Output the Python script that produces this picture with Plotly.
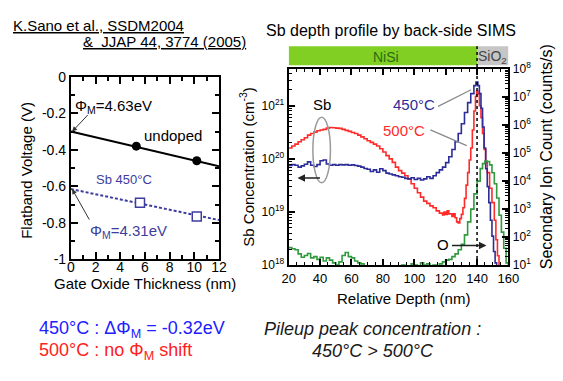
import plotly.graph_objects as go

# ---------------- Left panel data ----------------
tox_fit = [0, 12]
vfb_undoped_fit = [-0.30, -0.49]
vfb_sb450_fit = [-0.615, -0.785]
tox_undoped = [5.3, 10.2]
vfb_undoped = [-0.38, -0.46]
tox_sb450 = [5.6, 10.2]
vfb_sb450 = [-0.69, -0.765]

left_x_ticks = [0, 2, 4, 6, 8, 10, 12]
left_y_ticks = [0, -0.2, -0.4, -0.6, -0.8, -1]
left_y_text = ["0", "-0.2", "-0.4", "-0.6", "-0.8", "-1"]

# ---------------- Right panel data ----------------
depth_500 = [20, 22, 24, 26, 28, 30, 32, 34, 36, 38, 40, 42, 44, 46, 48, 50, 52, 54, 56, 58,
             60, 62, 64, 66, 68, 70, 72, 74, 76, 78, 80, 82, 84, 86, 88, 90, 92, 94, 96, 98,
             100, 102, 104, 106, 108, 110, 112, 114, 116, 118, 119, 120, 121, 122, 124, 125,
             126, 127, 128, 129, 130, 131, 132, 133, 134, 135, 136, 137, 138, 139, 139.7,
             140.5, 141.5, 142.5, 143.5, 144.5, 145.5, 146.5, 148, 149.5, 151, 152, 153, 154]
sb_500 = [1.6e20, 1.75e20, 1.9e20, 2.1e20, 2.3e20, 2.5e20, 2.8e20, 3.0e20, 3.2e20, 3.4e20,
          3.5e20, 3.6e20, 3.8e20, 3.9e20, 3.85e20, 3.8e20, 3.75e20, 3.6e20, 3.45e20, 3.3e20,
          3.15e20, 3.0e20, 2.8e20, 2.6e20, 2.4e20, 2.2e20, 2.05e20, 1.9e20, 1.75e20, 1.55e20,
          1.35e20, 1.15e20, 1.0e20, 8.6e19, 7.0e19, 6.0e19, 5.4e19, 4.8e19, 4.2e19, 3.4e19,
          2.8e19, 2.3e19, 1.9e19, 1.6e19, 1.45e19, 1.3e19, 1.2e19, 1.05e19, 9.5e18, 8.8e18,
          1.0e19, 9.0e18, 1.05e19, 9.2e18, 8.2e18, 9.2e18, 7.8e18, 6.5e18, 6.2e18, 7.5e18,
          9.0e18, 1.2e19, 1.8e19, 3.2e19, 5.5e19, 9.5e19, 1.6e20, 3.5e20, 8.0e20, 1.5e21,
          1.9e21, 1.7e21, 1.0e21, 6.0e20, 3.0e20, 1.5e20, 8.5e19, 5.5e19, 2.8e19, 1.5e19,
          7e18, 3e18, 1.5e18, 8e17]

depth_450 = [20, 22, 24, 26, 28, 30, 32, 34, 36, 38, 40, 42, 44, 46, 48, 50, 52, 54, 56, 58,
             60, 62, 64, 66, 68, 70, 72, 74, 76, 78, 80, 82, 84, 86, 88, 90, 92, 94, 96, 98,
             100, 102, 104, 106, 108, 110, 112, 114, 116, 118, 120, 122, 124, 126, 128, 130,
             132, 134, 136, 138, 139.3, 140.5, 141.5, 142.5, 143.5, 144.5, 145.5, 146.5,
             147.5, 148.5, 149.5, 150.5, 151.5, 152.5]
sb_450 = [7.5e19, 7.8e19, 7.6e19, 7.0e19, 7.4e19, 7.9e19, 8.8e19, 7.6e19, 7.2e19, 7.8e19,
          9.2e19, 9.5e19, 8.0e19, 7.6e19, 7.8e19, 7.6e19, 7.8e19, 7.7e19, 7.8e19, 7.6e19,
          7.7e19, 7.5e19, 7.3e19, 7.0e19, 6.6e19, 6.4e19, 5.8e19, 6.2e19, 5.6e19, 6.5e19,
          6.0e19, 5.4e19, 5.2e19, 5.0e19, 4.8e19, 4.6e19, 4.5e19, 4.3e19, 4.2e19, 4.4e19,
          4.1e19, 4.3e19, 4.0e19, 4.2e19, 4.6e19, 4.3e19, 4.8e19, 5.5e19, 6.2e19, 7.0e19,
          8.5e19, 1.1e20, 1.5e20, 2.1e20, 3.0e20, 4.6e20, 7.5e20, 1.15e21, 1.7e21, 2.4e21,
          2.8e21, 2.4e21, 1.7e21, 9e20, 4.0e20, 1.6e20, 6.5e19, 3.0e19, 1.5e19, 7e18,
          3.5e18, 1.8e18, 1.1e18, 7e17]

depth_o = [20, 22, 24, 26, 28, 30, 32, 34, 36, 38, 40, 42, 44, 46, 48, 50, 52, 54, 56, 58,
           60, 62, 64, 66, 68, 70, 72, 74, 76, 78, 80, 82, 84, 86, 88, 90, 92, 94, 96, 98,
           100, 102, 104, 106, 108, 110, 112, 114, 116, 118, 120, 122, 124, 126, 128, 130,
           132, 134, 136, 138, 140, 142, 143.5, 145, 146.5, 148, 149.5, 151, 152.5, 154,
           155.5, 157, 158.5, 160]
o_counts = [42, 38, 35, 25, 19, 22, 26, 18, 20, 16, 19, 14, 18, 15, 12, 10, 13, 22, 28, 20,
            18, 14, 12, 11, 9, 7, 8, 6, 8, 7, 6, 7, 8, 7, 9, 8, 10, 9, 8, 11,
            10, 9, 12, 10, 11, 9, 10, 8, 11, 13, 15, 16, 20, 25, 35, 55,
            120, 350, 1000, 3500, 10000, 28000, 42000, 52000, 50000, 38000, 20000, 8000,
            2500, 600, 150, 40, 12, 6]

sb_tickvals = [1e18, 1e19, 1e20, 1e21]
sb_ticktext = ["10<sup>18</sup>", "10<sup>19</sup>", "10<sup>20</sup>", "10<sup>21</sup>"]
ion_tickvals = [1e1, 1e2, 1e3, 1e4, 1e5, 1e6, 1e7, 1e8]
ion_ticktext = ["10<sup>%d</sup>" % e for e in range(1, 9)]
depth_ticks = [20, 40, 60, 80, 100, 120, 140, 160]

FONT = "Liberation Sans, Arial, sans-serif"
BLUE_LINE = "#2c2c98"
RED_LINE = "#ff2a2a"
GREEN_LINE = "#2f9a3e"
LEFT_BLUE = "#3d3d9e"
TEXT_BLUE = "#2020ff"
TEXT_RED = "#ff2020"

fig = go.Figure()

# Left panel
fig.add_trace(go.Scatter(x=tox_fit, y=vfb_undoped_fit, mode="lines",
                         line=dict(color="black", width=2), xaxis="x", yaxis="y"))
fig.add_trace(go.Scatter(x=tox_undoped, y=vfb_undoped, mode="markers",
                         marker=dict(color="black", size=9, symbol="circle"), xaxis="x", yaxis="y"))
fig.add_trace(go.Scatter(x=tox_fit, y=vfb_sb450_fit, mode="lines",
                         line=dict(color=LEFT_BLUE, width=2, dash="3px,2px"), xaxis="x", yaxis="y"))
fig.add_trace(go.Scatter(x=tox_sb450, y=vfb_sb450, mode="markers",
                         marker=dict(color="white", size=9, symbol="square",
                                     line=dict(color=LEFT_BLUE, width=1.5)), xaxis="x", yaxis="y"))

# Right panel
fig.add_trace(go.Scatter(x=depth_o, y=o_counts, mode="lines", line_shape="hv",
                         line=dict(color=GREEN_LINE, width=1.6), xaxis="x2", yaxis="y3"))
fig.add_trace(go.Scatter(x=depth_500, y=sb_500, mode="lines", line_shape="hv",
                         line=dict(color=RED_LINE, width=1.6), xaxis="x2", yaxis="y2"))
fig.add_trace(go.Scatter(x=depth_450, y=sb_450, mode="lines", line_shape="hv",
                         line=dict(color=BLUE_LINE, width=1.6), xaxis="x2", yaxis="y2"))

W, H = 563, 381


def px(x):
    return x / W


def py(y):
    return 1 - y / H


ax_common = dict(showline=True, linecolor="black", linewidth=2, ticks="inside",
                 tickcolor="black", tickwidth=1.5, showgrid=False, zeroline=False,
                 tickfont=dict(family=FONT, size=14, color="black"))

minor_log_sb = [float(m) * 10.0 ** e for e in range(18, 22) for m in range(2, 10)]
minor_log_ion = [float(m) * 10.0 ** e for e in range(1, 8) for m in range(2, 10)]

fig.update_layout(
    width=W, height=H, margin=dict(l=0, r=0, t=0, b=0),
    paper_bgcolor="white", plot_bgcolor="white", showlegend=False,
    font=dict(family=FONT, color="black"),
    xaxis=dict(domain=[px(66), px(219)], range=[0, 12], anchor="y", mirror="ticks",
               tickvals=left_x_ticks, ticklen=7, ticklabelstandoff=-6,
               minor=dict(dtick=1, ticks="inside", ticklen=4, tickwidth=1.5, tickcolor="black"),
               **ax_common),
    yaxis=dict(domain=[py(262), py(71)], range=[-1, 0], anchor="x", mirror="ticks",
               tickvals=left_y_ticks, ticktext=left_y_text, ticklen=7,
               minor=dict(dtick=0.1, ticks="inside", ticklen=4, tickwidth=1.5, tickcolor="black"),
               **ax_common),
    xaxis2=dict(domain=[px(291), px(518)], range=[20, 160], anchor="y2", mirror="ticks",
                tickvals=depth_ticks, ticklen=6, ticklabelstandoff=0,
                minor=dict(dtick=5, tick0=20, ticks="inside", ticklen=3, tickwidth=1.2, tickcolor="black"),
                **{**ax_common, "tickfont": dict(family=FONT, size=13, color="black")}),
    yaxis2=dict(domain=[py(268), py(63)], type="log", range=[18, 21.69], anchor="x2",
                tickvals=sb_tickvals, ticktext=sb_ticktext, ticklen=6,
                minor=dict(tickmode="array", tickvals=minor_log_sb, ticks="inside", ticklen=3,
                           tickwidth=1.2, tickcolor="black"),
                **{**ax_common, "tickfont": dict(family=FONT, size=12, color="black")}),
    yaxis3=dict(type="log", range=[1, 8], anchor="x2", overlaying="y2", side="right",
                tickvals=ion_tickvals, ticktext=ion_ticktext, ticklen=6,
                minor=dict(tickmode="array", tickvals=minor_log_ion, ticks="inside", ticklen=3,
                           tickwidth=1.2, tickcolor="black"),
                **{**ax_common, "tickfont": dict(family=FONT, size=12, color="black")}),
)

shapes = [
    # NiSi / SiO2 layer bar
    dict(type="rect", xref="x2", yref="paper", x0=20, x1=140, y0=py(59), y1=py(39),
         fillcolor="#80cf22", line=dict(width=0), layer="below"),
    dict(type="rect", xref="x2", yref="paper", x0=140, x1=160, y0=py(59), y1=py(39),
         fillcolor="#c6c6c6", line=dict(width=0), layer="below"),
    # interface dotted line
    dict(type="line", xref="x2", yref="paper", x0=140, x1=140, y0=py(268), y1=py(39),
         line=dict(color="black", width=1.5, dash="dot")),
    # Sb ellipse
    dict(type="circle", xref="x2 domain", yref="y2 domain", x0=0.11, x1=0.19, y0=0.42, y1=0.755,
         line=dict(color="#9a9a9a", width=1.5)),
    # leader lines
    dict(type="line", xref="x2 domain", yref="y2 domain", x0=0.68, y0=0.81, x1=0.83, y1=0.895,
         line=dict(color="#8a8a8a", width=1.3)),
    dict(type="line", xref="x2 domain", yref="y2 domain", x0=0.645, y0=0.69, x1=0.81, y1=0.61,
         line=dict(color="#8a8a8a", width=1.3)),
]
fig.update_layout(shapes=shapes)

ann = []


def txt(x, y, s, size=15, color="black", xanchor="center", angle=0):
    ann.append(dict(xref="paper", yref="paper", x=x, y=y, text=s, showarrow=False,
                    xanchor=xanchor, yanchor="middle", textangle=angle,
                    font=dict(family=FONT, size=size, color=color)))


# citation and title
txt(px(4), py(17), "<u>K.Sano et al., SSDM2004</u>", size=15, xanchor="left")
txt(px(76), py(34), "<u>&amp;&nbsp; JJAP 44, 3774 (2005)</u>", size=15, xanchor="left")
txt(px(397), py(22), "Sb depth profile by back-side SIMS", size=16)

# left panel axis titles and labels
txt(px(20), py(169), "Flatband Voltage (V)", size=15, angle=-90)
txt(px(143), py(287), "Gate Oxide Thickness (nm)", size=15)
txt(px(110), py(102), "Φ<sub>M</sub>=4.63eV", size=15)
txt(px(171), py(132), "undoped", size=15)
txt(px(121), py(178), "Sb 450°C", size=13, color=LEFT_BLUE)
txt(px(125), py(233), "Φ<sub>M</sub>=4.31eV", size=15, color=LEFT_BLUE)

# right panel axis titles and labels
txt(px(248), py(166), "Sb Concentration (cm<sup>-3</sup>)", size=15, angle=-90)
txt(px(557), py(155), "Secondary Ion Count (counts/s)", size=16, angle=-90)
txt(px(410), py(303), "Relative Depth (nm)", size=15)
txt(px(392), py(50), "NiSi", size=14, color="#2d6a12")
txt(px(502), py(50), "SiO<sub>2</sub>", size=14, color="#454545")
txt(px(325), py(100), "Sb", size=15)
txt(px(420), py(100), "450°C", size=15, color=BLUE_LINE)
txt(px(410), py(127), "500°C", size=15, color=RED_LINE)
txt(px(450), py(247), "O", size=15)

# bottom summary
txt(px(31), py(335), "450°C : ΔΦ<sub>M</sub> = -0.32eV", size=18, color=TEXT_BLUE, xanchor="left")
txt(px(31), py(358), "500°C : no Φ<sub>M</sub> shift", size=18, color=TEXT_RED, xanchor="left")
txt(px(378), py(335), "<i>Pileup peak concentration :</i>", size=18, color="#1a1a1a")
txt(px(378), py(358), "<i>450°C &gt; 500°C</i>", size=18, color="#1a1a1a")

# arrows
ann.append(dict(xref="x", yref="y", x=0.1, y=vfb_undoped_fit[0], ax=17, ay=-18, text="",
                showarrow=True, arrowhead=2, arrowsize=1, arrowwidth=1, arrowcolor="#333333"))
ann.append(dict(xref="x", yref="y", x=0.1, y=vfb_sb450_fit[0], ax=18, ay=32, text="",
                showarrow=True, arrowhead=2, arrowsize=1, arrowwidth=1, arrowcolor="#333333"))
ann.append(dict(xref="x2 domain", yref="y2 domain", x=0.04, y=0.445, ax=24, ay=0, text="",
                showarrow=True, arrowhead=2, arrowsize=1, arrowwidth=1.5, arrowcolor="#222222"))
ann.append(dict(xref="x2 domain", yref="y2 domain", x=0.9, y=0.10, ax=-36, ay=0, text="",
                showarrow=True, arrowhead=2, arrowsize=1, arrowwidth=1.5, arrowcolor="#222222"))

fig.update_layout(annotations=ann)
fig.write_html("out.html")
